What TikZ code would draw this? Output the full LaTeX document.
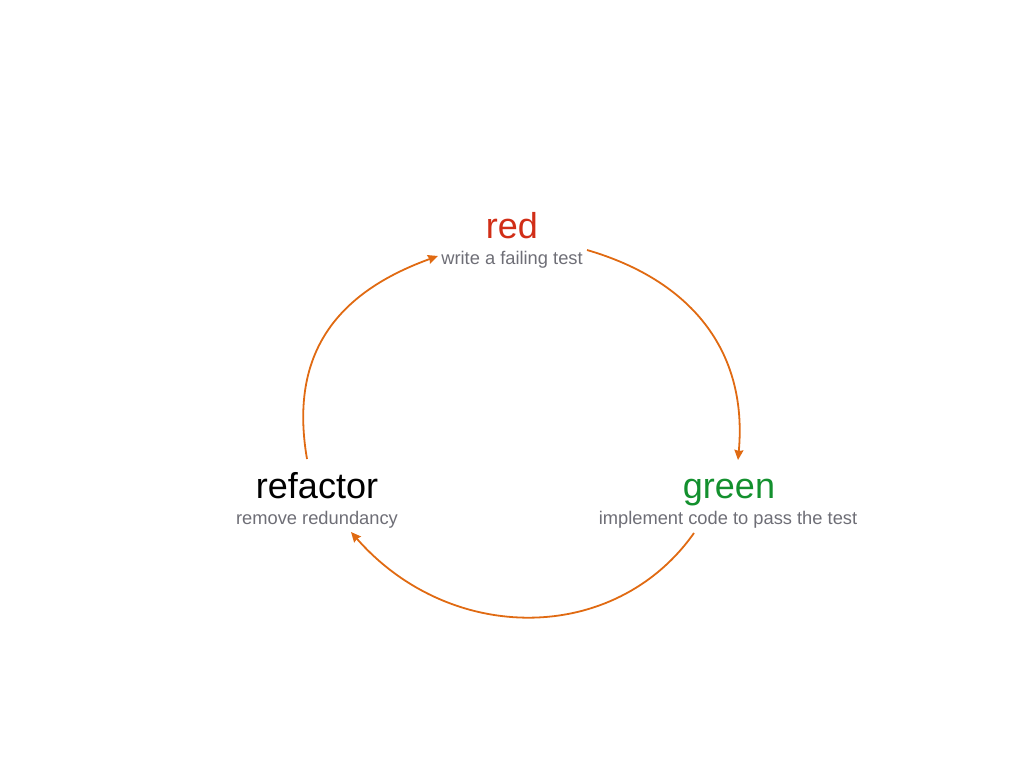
\documentclass[tikz,border=0pt]{standalone}
\usepackage{fontspec}
\setmainfont{Liberation Sans}
\usetikzlibrary{arrows.meta}
\definecolor{tddred}{HTML}{D12E17}
\definecolor{tddgreen}{HTML}{13902E}
\definecolor{tddgray}{HTML}{6E6E76}
\definecolor{tddorange}{HTML}{E06A12}
\begin{document}
\begin{tikzpicture}[x=1pt,y=-1pt,
  title/.style={font=\fontsize{36}{40}\selectfont, anchor=base, inner sep=0pt},
  sub/.style={font=\fontsize{18.3}{21}\selectfont, text=tddgray, anchor=base, inner sep=0pt},
  cyc/.style={draw=tddorange, line width=1.8pt, -{Stealth[length=10pt,width=9pt,inset=1pt]}}]
\useasboundingbox (0,0) rectangle (1024,768);
\node[title, text=tddred] (red) at (512,238) {red};
\node[sub] (redsub) at (512,264) {write a failing test};
\node[title, text=tddgreen] (green) at (729,498) {green};
\node[sub] (greensub) at (728,524) {implement code to pass the test};
\node[title, text=black] (refactor) at (317,498) {refactor};
\node[sub] (refsub) at (317,524) {remove redundancy};
\coordinate (a1s) at (587,250);
\coordinate (a1e) at (738,460);
\coordinate (a2s) at (694,533);
\coordinate (a2e) at (351,532);
\coordinate (a3s) at (307,459);
\coordinate (a3e) at (438,256);
\draw[cyc] (a1s) .. controls (690,280) and (748,350) .. (a1e);
\draw[cyc] (a2s) .. controls (615,645) and (450,645) .. (a2e);
\draw[cyc] (a3s) .. controls (290,360) and (330,295) .. (a3e);
\end{tikzpicture}
\end{document}
